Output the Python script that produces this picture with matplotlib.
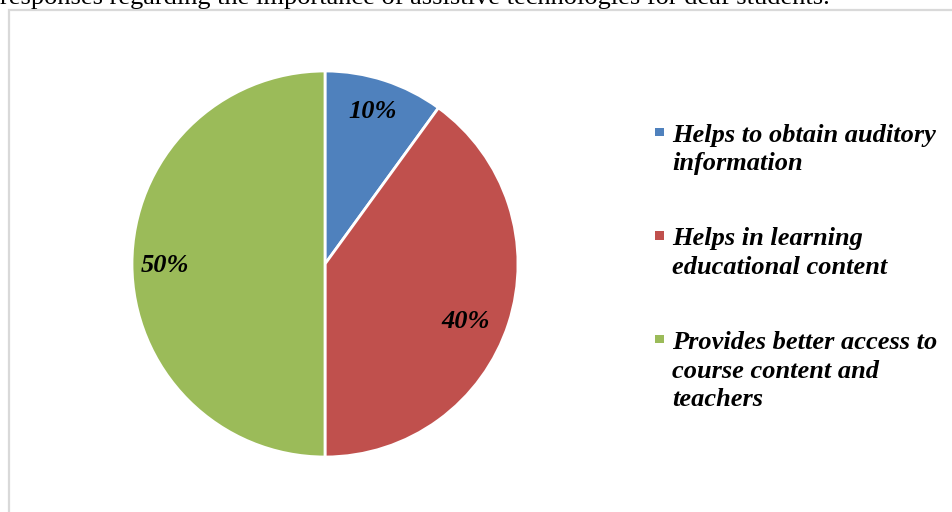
import matplotlib
matplotlib.use("Agg")
import matplotlib.pyplot as plt
from matplotlib.patches import Rectangle

CAPTION = "responses regarding the importance of assistive technologies for deaf students."
labels = [
    "Helps to obtain auditory\ninformation",
    "Helps in learning\neducational content",
    "Provides better access to\ncourse content and\nteachers",
]
shares = [10, 40, 50]
colors = ["#4F81BD", "#C0504D", "#9BBB59"]

W, H = 952, 512
SERIF = "Liberation Serif"
FS = 19


def fy(px):
    # pixel row from the top -> figure fraction
    return 1 - px / H


fig = plt.figure(figsize=(W / 100, H / 100), dpi=100)

# caption line from the page above, cut off by the top edge
fig.text(0, fy(4), CAPTION, family=SERIF, fontsize=FS, va="baseline", ha="left")

# chart frame, runs off the right and bottom edges
fig.patches.append(Rectangle((8.5 / W, -0.1), 1.0, 1.1 - 10 / H, transform=fig.transFigure,
                             fill=False, edgecolor="#d9d9d9", linewidth=1.6))

cx, cy, r = 325, 264, 193
ax = fig.add_axes([(cx - r) / W, (H - cy - r) / H, 2 * r / W, 2 * r / H])
wedges, _, autotexts = ax.pie(
    shares, colors=colors, startangle=90, counterclock=False,
    autopct="%d%%", pctdistance=0.83,
    wedgeprops=dict(edgecolor="white", linewidth=2),
    textprops=dict(family=SERIF, fontsize=FS, weight="bold", style="italic"),
)
# small nudges so the percentages sit like the Excel best-fit labels
nudges = [(-0.01, 0.0), (-0.06, -0.04), (0.0, -0.01)]
for t, (dx, dy) in zip(autotexts, nudges):
    x, y = t.get_position()
    t.set_position((x + dx, y + dy))
ax.set_xlim(-1, 1)
ax.set_ylim(-1, 1)
ax.set_aspect("equal")
ax.axis("off")

# legend: square marker next to the first line of each label
base0 = 141
gap = 103.5
line_px = 29
for i, (lab, col) in enumerate(zip(labels, colors)):
    b = base0 + i * gap
    n = lab.count("\n")
    fig.patches.append(Rectangle((655 / W, fy(b - 5)), 8.5 / W, 8.5 / H,
                                 transform=fig.transFigure, color=col, lw=0))
    # baseline alignment uses the last line, so shift down by the extra lines
    fig.text(672 / W, fy(b + n * line_px), lab, family=SERIF, fontsize=FS,
             weight="bold", style="italic", va="baseline", ha="left", linespacing=1.3)

fig.savefig("out.png", dpi=100)
